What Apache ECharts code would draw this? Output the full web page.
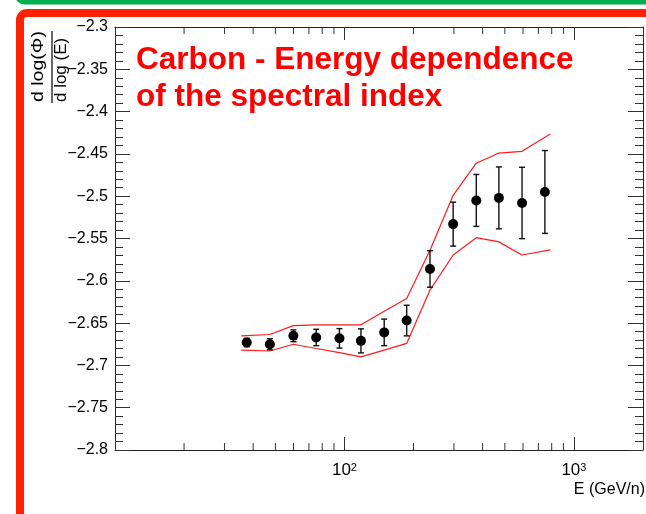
<!DOCTYPE html>
<html>
<head>
<meta charset="utf-8">
<title>Carbon - Energy dependence of the spectral index</title>
<script src="https://cdn.jsdelivr.net/npm/echarts@6/dist/echarts.min.js"></script>
<style>
  html, body { margin: 0; padding: 0; background: #fff; }
  #chart { width: 646px; height: 514px; }
</style>
</head>
<body>
<div id="chart"></div>
<script>
// Measured spectral index of carbon vs. kinetic energy per nucleon
const energies = [37.5, 47.3, 59.9, 75.3, 95.1, 118, 149, 186.7, 235.9, 297.6, 375.4, 470.9, 594.1, 747.3];
const spectralIndex = [-2.673, -2.675, -2.665, -2.667, -2.668, -2.671, -2.661, -2.647, -2.586, -2.533, -2.505, -2.502, -2.508, -2.495];
const indexError = [0.005, 0.0065, 0.007, 0.0097, 0.0115, 0.0142, 0.0157, 0.0181, 0.0216, 0.026, 0.0307, 0.0366, 0.0422, 0.049];

// Systematic band (upper and lower edges)
const bandEnergies = [35.5, 47.3, 59.9, 75.3, 95.1, 118, 149, 186.7, 235.9, 297.6, 375.4, 470.9, 594.1, 788.8];
const bandUpper = [-2.665, -2.6635, -2.653, -2.652, -2.652, -2.652, -2.636, -2.621, -2.564, -2.499, -2.461, -2.449, -2.447, -2.4265];
const bandLower = [-2.682, -2.683, -2.675, -2.680, -2.685, -2.690, -2.682, -2.674, -2.611, -2.5695, -2.549, -2.554, -2.5695, -2.5635];

// Axis ticks
const xMinorTicks = [20, 30, 40, 50, 60, 70, 80, 90, 200, 300, 400, 500, 600, 700, 800, 900];
const xLabelExponents = [2, 3];
const yMin = -2.8, yMax = -2.3, yStep = 0.05;

const FONT = 'Liberation Sans, Arial, Helvetica, sans-serif';
const RED = '#ff2200';

const chart = echarts.init(document.getElementById('chart'), null, { renderer: 'canvas' });

function xLabel(value) {
  const e = Math.log10(value);
  const r = Math.round(e);
  if (Math.abs(e - r) > 1e-6 || xLabelExponents.indexOf(r) < 0) return '';
  return '{n|10}{s|' + r + '}';
}

function yLabel(value) {
  const v = Math.round(value * 100) / 100;
  return String(v).replace('-', '\u2212');
}

const yAxisCommon = {
  type: 'value', min: yMin, max: yMax, interval: yStep,
  axisLine: { show: true, lineStyle: { color: '#222', width: 1 } },
  axisTick: { show: true, inside: true, length: 15, lineStyle: { color: '#333', width: 1 } },
  minorTick: { show: true, splitNumber: 5, length: 8, lineStyle: { color: '#333', width: 1 } },
  splitLine: { show: false }
};

const xAxisCommon = {
  type: 'log', logBase: 10, min: 10, max: 2000,
  axisLine: { show: true, lineStyle: { color: '#222', width: 1 } },
  axisTick: { show: true, inside: true, length: 13, lineStyle: { color: '#333', width: 1 } },
  splitLine: { show: false }
};

const option = {
  animation: false,
  backgroundColor: '#fff',
  grid: { left: 115, right: 1, top: 27, bottom: 64 },
  title: {
    text: 'Carbon - Energy dependence\nof the spectral index',
    left: 131, top: 37,
    textStyle: { color: '#ff0000', fontFamily: FONT, fontWeight: 'bold', fontSize: 31.5, lineHeight: 37 }
  },
  xAxis: [
    Object.assign({}, xAxisCommon, {
      position: 'bottom',
      axisLabel: {
        show: true, margin: 12, formatter: xLabel, color: '#000',
        rich: {
          n: { fontFamily: FONT, fontSize: 17, color: '#000' },
          s: { fontFamily: FONT, fontSize: 11, color: '#000', verticalAlign: 'top' }
        }
      }
    }),
    Object.assign({}, xAxisCommon, { position: 'top', axisLabel: { show: false } })
  ],
  yAxis: [
    Object.assign({}, yAxisCommon, {
      position: 'left',
      axisLabel: { show: true, margin: 7, formatter: yLabel, color: '#000', fontFamily: FONT, fontSize: 16 }
    }),
    Object.assign({}, yAxisCommon, { position: 'right', axisLabel: { show: false } })
  ],
  series: [
    {
      // log-spaced minor ticks on the bottom and top x axes
      type: 'custom', silent: true, clip: false, z: 1,
      data: xMinorTicks.map(v => [v, yMin]),
      renderItem: function (params, api) {
        const x = api.coord([api.value(0), yMin])[0];
        const cs = params.coordSys;
        const style = { stroke: '#333', lineWidth: 1 };
        return {
          type: 'group',
          children: [
            { type: 'line', shape: { x1: x, y1: cs.y + cs.height, x2: x, y2: cs.y + cs.height - 7 }, style: style },
            { type: 'line', shape: { x1: x, y1: cs.y, x2: x, y2: cs.y + 7 }, style: style }
          ]
        };
      }
    },
    {
      name: 'upper', type: 'line', showSymbol: false, silent: true, z: 2,
      data: bandEnergies.map((e, i) => [e, bandUpper[i]]),
      lineStyle: { color: '#ff1a1a', width: 1.2 }
    },
    {
      name: 'lower', type: 'line', showSymbol: false, silent: true, z: 2,
      data: bandEnergies.map((e, i) => [e, bandLower[i]]),
      lineStyle: { color: '#ff1a1a', width: 1.2 }
    },
    {
      // statistical error bars with caps
      type: 'custom', silent: true, z: 3,
      data: energies.map((e, i) => [e, spectralIndex[i], indexError[i]]),
      renderItem: function (params, api) {
        const e = api.value(0), v = api.value(1), err = api.value(2);
        const top = api.coord([e, v + err]);
        const bot = api.coord([e, v - err]);
        const style = { stroke: '#111', lineWidth: 1.4 };
        const cap = 3;
        return {
          type: 'group',
          children: [
            { type: 'line', shape: { x1: top[0], y1: top[1], x2: bot[0], y2: bot[1] }, style: style },
            { type: 'line', shape: { x1: top[0] - cap, y1: top[1], x2: top[0] + cap, y2: top[1] }, style: style },
            { type: 'line', shape: { x1: bot[0] - cap, y1: bot[1], x2: bot[0] + cap, y2: bot[1] }, style: style }
          ]
        };
      }
    },
    {
      type: 'scatter', silent: true, z: 4,
      symbol: 'circle', symbolSize: 10,
      itemStyle: { color: '#000', opacity: 1 },
      data: energies.map((e, i) => [e, spectralIndex[i]])
    }
  ],
  graphic: [
    // slide frames
    { type: 'rect', z: 100, silent: true, shape: { x: 18, y: -60, width: 700, height: 62, r: 6 },
      style: { fill: 'none', stroke: '#00b050', lineWidth: 5 } },
    { type: 'rect', z: 100, silent: true, shape: { x: 20, y: 13, width: 700, height: 600, r: 7 },
      style: { fill: 'none', stroke: RED, lineWidth: 8 } },
    // y axis title as a fraction
    { type: 'text', z: 100, silent: true, x: 38.5, y: 102, rotation: Math.PI / 2, scaleX: 1.22,
      style: { text: 'd log(\u03A6)', font: '16px ' + FONT, fill: '#000', align: 'left', verticalAlign: 'middle' } },
    { type: 'line', z: 100, silent: true, shape: { x1: 52, y1: 31, x2: 52, y2: 103 },
      style: { stroke: '#000', lineWidth: 1.2 } },
    { type: 'text', z: 100, silent: true, x: 61.5, y: 102, rotation: Math.PI / 2, scaleX: 1.06,
      style: { text: 'd log (E)', font: '16px ' + FONT, fill: '#000', align: 'left', verticalAlign: 'middle' } },
    // x axis title
    { type: 'text', z: 100, silent: true, x: 645, y: 490,
      style: { text: 'E (GeV/n)', font: '16px ' + FONT, fill: '#000', align: 'right', verticalAlign: 'middle' } }
  ]
};

chart.setOption(option);
</script>
</body>
</html>
